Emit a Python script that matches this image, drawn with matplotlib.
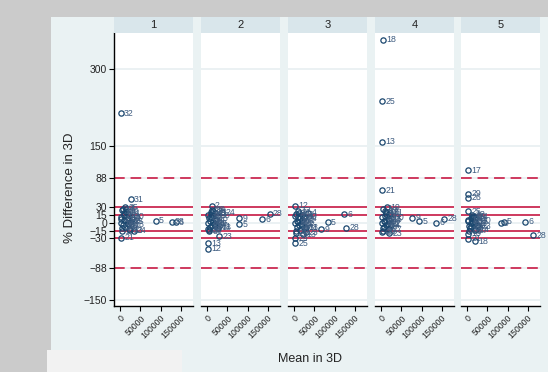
import matplotlib
matplotlib.use("Agg")
import matplotlib.pyplot as plt
from matplotlib.patches import Rectangle

plt.rcParams['font.family'] = ['Liberation Sans', 'DejaVu Sans']

# ---------------- data ----------------
panel_names = ["1", "2", "3", "4", "5"]

p1_labels = [1, 2, 3, 4, 7, 8, 9, 10, 11, 12, 13, 14, 15, 16, 17, 18, 19, 20, 22, 23, 24, 25, 26, 27, 29, 30, 5, 6, 21, 28, 31, 32]
p1_x = [8000, 4000, 15000, 22000, 2000, 10000, 30000, 6000, 18000, 3000, 25000, 12000, 20000, 1000, 9000, 27000, 14000, 5000, 16000, 24000, 33000, 11000, 7000, 19000, 2000, 28000, 87500, 137500, 1000, 127500, 26000, 1000]
p1_y = [20, -16, 28, -12, 12, 5, 8, -5, 18, 25, 2, -8, 10, 0, 15, -3, 22, -10, 5, -14, -15, 30, 27, -2, 7, 12, 4, 1, -29, 2, 46, 214]

p2_labels = [1, 2, 3, 4, 7, 8, 10, 11, 14, 15, 16, 17, 18, 19, 20, 21, 22, 23, 24, 25, 26, 27, 29, 30, 31, 32, 5, 6, 9, 12, 13, 28]
p2_x = [9000, 10750, 4000, 22000, 2000, 14000, 6000, 18000, 12000, 20000, 1000, 9000, 26000, 15000, 5000, 3000, 16000, 29000, 37000, 11000, 7000, 19000, 2000, 24000, 28000, 8000, 80000, 136500, 80000, 1000, 1000, 155000]
p2_y = [12, 33, -16, 5, 15, 2, -8, 20, -4, 8, 0, 18, -10, 24, -14, 10, -2, -26, 21, 26, 4, -6, -12, 14, -7, 22, -3, 7, 9, -50, -40, 18]

p3_labels = [1, 2, 3, 4, 7, 8, 10, 11, 13, 14, 15, 16, 17, 18, 19, 20, 21, 22, 23, 24, 26, 27, 29, 30, 31, 32, 5, 6, 9, 12, 25, 28]
p3_x = [8000, 4000, 14000, 35000, 2000, 10000, 6000, 18000, 22000, 12000, 20000, 1000, 9000, 26000, 15000, 5000, 3000, 16000, 28000, 24000, 7000, 19000, 1000, 24000, 28000, 11000, 83000, 123000, 66000, 1000, 1000, 129000]
p3_y = [12, 18, -14, 20, 14, 2, -8, 16, -22, -4, 6, 0, 24, -10, 10, -16, -20, -2, -18, 9, 4, -6, -30, 12, -9, 20, 1, 17, -12, 33, -40, -10]

p4_labels = [1, 2, 3, 4, 7, 8, 10, 11, 12, 14, 15, 16, 17, 19, 20, 22, 23, 24, 26, 27, 29, 30, 31, 32, 5, 6, 9, 13, 18, 21, 25, 28]
p4_x = [8000, 4000, 4000, 24000, 2000, 10000, 6000, 18000, 12000, 12000, 20000, 1000, 9000, 15000, 5000, 16000, 20000, 17000, 7000, 19000, 2000, 24000, 22000, 11000, 94000, 137000, 77000, 1000, 3000, 1000, 1000, 156500]
p4_y = [14, -10, 28, -5, 12, 2, -8, 16, 22, -4, 6, 0, 24, 30, -16, -2, -20, 7, 4, -12, -18, 10, 20, 18, 3, 0, 10, 158, 357, 64, 237, 8]

p5_labels = [1, 2, 3, 4, 7, 8, 10, 11, 12, 14, 15, 16, 19, 20, 21, 22, 23, 24, 27, 30, 31, 32, 5, 6, 9, 13, 17, 18, 25, 26, 28, 29]
p5_x = [8000, 4000, 14000, 24000, 2000, 10000, 6000, 18000, 12000, 22000, 20000, 1000, 15000, 5000, 1000, 16000, 26000, 20000, 19000, 28000, 10000, 11000, 90000, 143000, 83000, 1000, 1000, 19000, 1000, 1000, 164000, 1000]
p5_y = [10, -6, 14, -4, 6, 0, -10, 8, 16, -12, 2, 4, 12, -16, -31, -2, -8, 12, -14, 4, -6, 10, 2, 2, -1, -21, 103, -36, 23, 49, -24, 57]

panel_x = [p1_x, p2_x, p3_x, p4_x, p5_x]
panel_y = [p1_y, p2_y, p3_y, p4_y, p5_y]
panel_labels = [p1_labels, p2_labels, p3_labels, p4_labels, p5_labels]

y_ticks = [300, 150, 88, 30, 15, 0, -15, -30, -88, -150]
x_ticks = [0, 50000, 100000, 150000]
x_tick_labels = ["0", "50000", "100000", "150000"]
solid_lines = [30, 15, -15, -30]
dashed_lines = [88, -88]

# ---------------- figure ----------------
W, H = 548, 372
fig = plt.figure(figsize=(W / 100, H / 100), dpi=100)
fig.patch.set_facecolor('#CBCBCB')

def px_rect(x0, y0, x1, y1):
    return [x0 / W, 1 - y1 / H, (x1 - x0) / W, (y1 - y0) / H]

bg = Rectangle((51 / W, 0), 1 - 51 / W, 1 - 17 / H, transform=fig.transFigure,
               facecolor='#EAF2F3', edgecolor='none', zorder=-10)
fig.patches.append(bg)
box = Rectangle((47 / W, 0), (182 - 47) / W, 22 / H, transform=fig.transFigure,
                facecolor='#F2F2F2', edgecolor='none', zorder=-5)
fig.patches.append(box)

lefts = [114, 201, 288, 375, 461]
pw = 79
top, bottom = 33, 306

navy = '#1A476F'
red = '#CF3A5E'

for i in range(5):
    ax = fig.add_axes(px_rect(lefts[i], top, lefts[i] + pw, bottom))
    ax.set_facecolor('white')
    ax.set_xlim(-16000, 181000)
    ax.set_ylim(-162, 370)
    ax.set_yticks(y_ticks)
    ax.yaxis.grid(True, color='#E8EFF1', lw=1.2)
    ax.set_axisbelow(True)
    for v in solid_lines:
        ax.axhline(v, color=red, lw=1.4, zorder=1)
    for v in dashed_lines:
        ax.axhline(v, color=red, lw=1.4, dashes=(5.5, 3), zorder=1)
    ax.plot(panel_x[i], panel_y[i], linestyle='none', marker='o', ms=3.8,
            mfc='none', mec=navy, mew=0.9, zorder=3)
    for lab, xv, yv in zip(panel_labels[i], panel_x[i], panel_y[i]):
        ax.annotate(str(lab), (xv, yv), xytext=(2.4, 0), textcoords='offset points',
                    fontsize=6.3, color='#3E5C80', va='center', ha='left', zorder=4)
    ax.set_xticks(x_ticks)
    ax.set_xticklabels(x_tick_labels, rotation=45, ha='right', va='top',
                       rotation_mode='anchor', fontsize=6.3, color='#222222')
    ax.tick_params(axis='x', length=3.5, width=0.8, pad=2)
    for s in ['top', 'right']:
        ax.spines[s].set_visible(False)
    ax.spines['bottom'].set_linewidth(1.0)
    if i == 0:
        ax.spines['left'].set_linewidth(1.0)
        ax.tick_params(axis='y', length=3.5, width=0.8, labelsize=7.5, pad=1.5,
                       labelcolor='#222222')
    else:
        ax.spines['left'].set_visible(False)
        ax.tick_params(axis='y', left=False, labelleft=False)

    hax = fig.add_axes(px_rect(lefts[i], 17, lefts[i] + pw, top))
    hax.set_facecolor('#D9E6EB')
    hax.set_xticks([])
    hax.set_yticks([])
    for s in hax.spines.values():
        s.set_visible(False)
    hax.text(0.5, 0.5, panel_names[i], ha='center', va='center', fontsize=8, color='#222222')

fig.text(70 / W, 1 - 188 / H, "% Difference in 3D", rotation=90, ha='center', va='center',
         fontsize=9.5, color='#222222')
fig.text(310 / W, 1 - 359 / H, "Mean in 3D", ha='center', va='center', fontsize=9,
         color='#222222')

fig.savefig("out.png", dpi=100, facecolor=fig.get_facecolor())
